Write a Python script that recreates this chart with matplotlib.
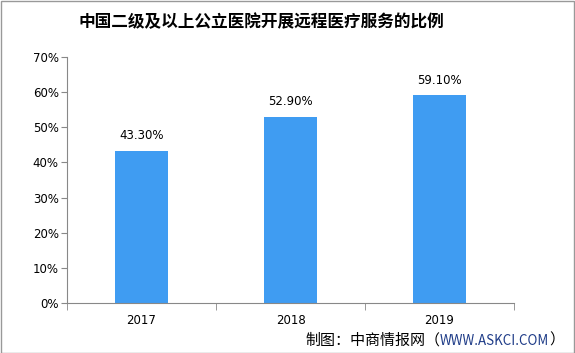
import matplotlib
matplotlib.use("Agg")
import matplotlib.pyplot as plt
from matplotlib.patches import Rectangle

plt.rcParams['font.family'] = ['Noto Sans CJK SC', 'DejaVu Sans']

# data
years = ['2017', '2018', '2019']
ratio = [43.3, 52.9, 59.1]
yticks = [0, 10, 20, 30, 40, 50, 60, 70]

fig = plt.figure(figsize=(5.75, 3.53), dpi=100)
ax = fig.add_axes([0.1165, 0.1416, 0.7775, 0.6969])

x = range(len(years))
ax.bar(x, ratio, width=0.36, color='#3f9cf2')
for i, v in zip(x, ratio):
    ax.text(i, v + 2.5, '%.2f%%' % v, ha='center', va='bottom', fontsize=8.5,
            family=['DejaVu Sans'])

ax.set_xlim(-0.5, 2.5)
ax.set_ylim(0, 70)
ax.set_yticks(yticks)
ax.set_yticklabels(['%d%%' % t for t in yticks], fontsize=8.5, family=['DejaVu Sans'])
ax.set_xticks(list(x))
ax.set_xticklabels(years, fontsize=8.5, family=['DejaVu Sans'])
ax.tick_params(axis='x', length=0, pad=8)
ax.tick_params(axis='y', length=4, color='#888888', pad=2)
# category boundary ticks
ax.set_xticks([-0.5, 0.5, 1.5, 2.5], minor=True)
ax.tick_params(axis='x', which='minor', length=5, color='#888888', direction='out')

for s in ['top', 'right']:
    ax.spines[s].set_visible(False)
for s in ['left', 'bottom']:
    ax.spines[s].set_color('#888888')

fig.text(0.455, 0.937, '中国二级及以上公立医院开展远程医疗服务的比例', ha='center', va='center',
         fontsize=12, fontweight='bold')

# footer, pieces laid out one after another
renderer = fig.canvas.get_renderer()
xpos = 305
for part, col, fs in [('制图：中商情报网（', 'black', 10.8),
                      ('WWW.ASKCI.COM', '#1f3c88', 9.6),
                      ('）', 'black', 10.8)]:
    t = fig.text(xpos / 575, 0.035, part, ha='left', va='center', fontsize=fs, color=col)
    xpos += t.get_window_extent(renderer).width

fig.patches.append(Rectangle((0.001, 0.001), 0.997, 0.997, transform=fig.transFigure,
                             fill=False, edgecolor='#999999', linewidth=1))

fig.savefig('out.png', dpi=100)
